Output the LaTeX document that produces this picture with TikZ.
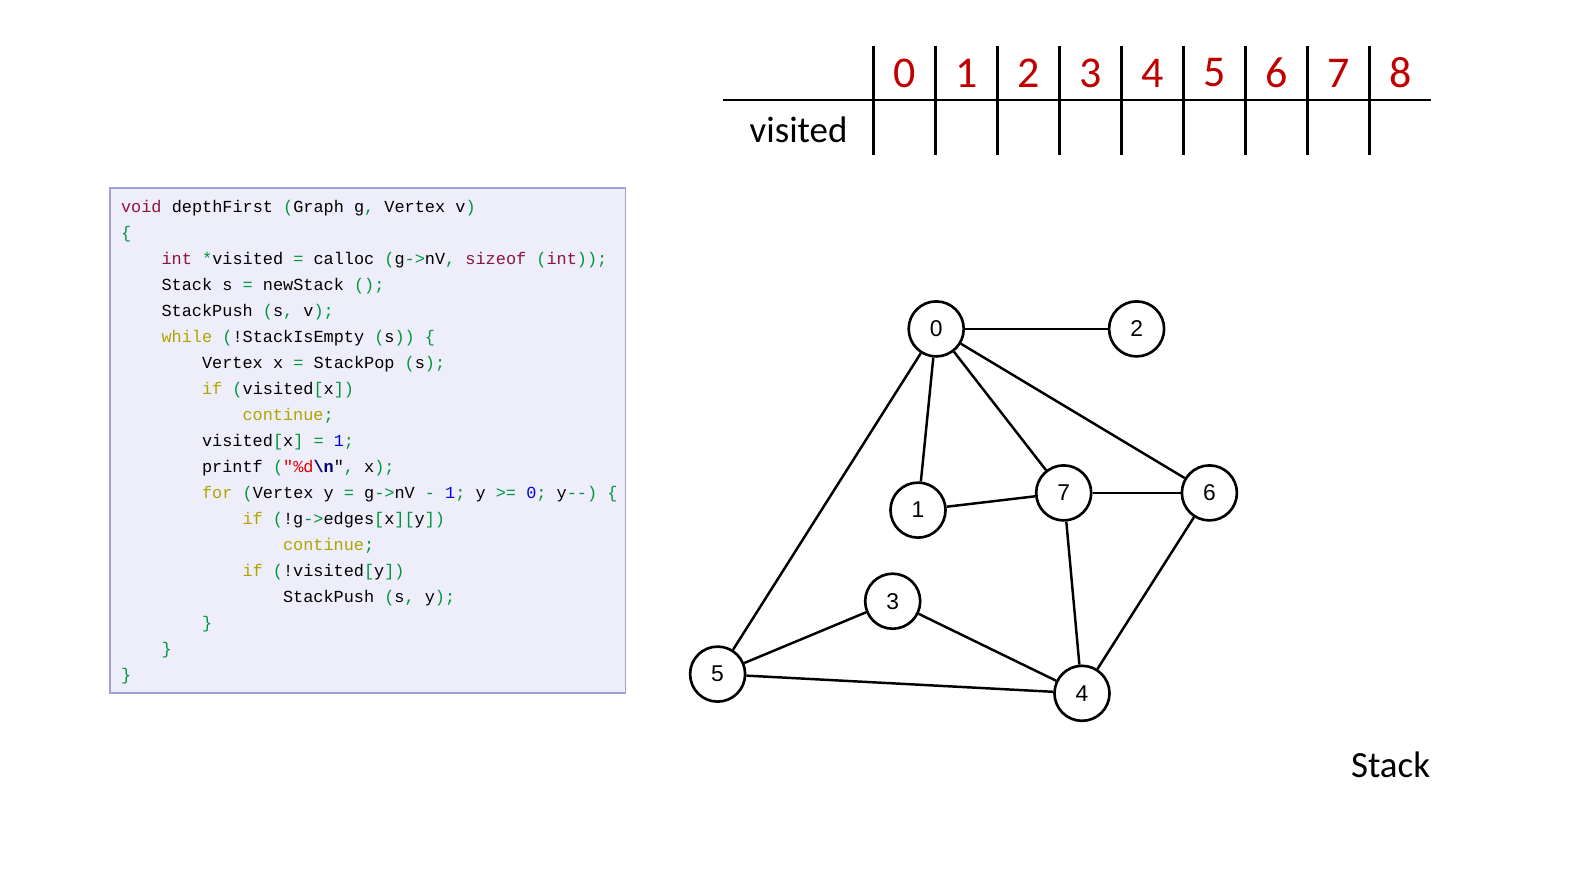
\documentclass[tikz,border=0pt]{standalone}
\usepackage{fontspec}
\setmainfont{Carlito}
\newfontfamily\codefont{Liberation Mono}
\newfontfamily\vxfont{Liberation Sans}
\definecolor{codebg}{RGB}{238,238,250}
\definecolor{codeframe}{RGB}{160,160,215}
\definecolor{kwtype}{RGB}{140,20,60}
\definecolor{kwctrl}{RGB}{175,165,0}
\definecolor{punctc}{RGB}{0,150,60}
\definecolor{numc}{RGB}{0,0,230}
\definecolor{strc}{RGB}{230,0,0}
\definecolor{escc}{RGB}{0,0,110}
\definecolor{idxred}{RGB}{192,0,0}
\newcommand\cty[1]{\textcolor{kwtype}{#1}}
\newcommand\ckw[1]{\textcolor{kwctrl}{#1}}
\newcommand\cpn[1]{\textcolor{punctc}{#1}}
\newcommand\cnm[1]{\textcolor{numc}{#1}}
\usepackage{tikz}
\usetikzlibrary{positioning}

\begin{document}
\begin{tikzpicture}[x=0.01cm,y=-0.01cm,
    codeline/.style={anchor=base west, inner sep=0pt,
      font=\codefont\fontsize{4.8}{5}\selectfont},
    vertex/.style={circle, draw, line width=0.75pt, fill=white,
      minimum size=0.55cm, inner sep=0pt, font=\vxfont\fontsize{6.5}{7}\selectfont},
    edge/.style={line width=0.7pt},
    grid/.style={line width=0.7pt},
    idx/.style={font=\fontsize{12.5}{13}\selectfont, text=idxred, inner sep=0pt},
    label/.style={font=\fontsize{10.5}{11}\selectfont, inner sep=0pt}]
  \useasboundingbox (0,0) rectangle (1587,893);

  % code panel
  \draw[codeframe, fill=codebg, line width=0.5pt] (110.3,188.3) rectangle (625.5,693.3);
  \node[codeline] (c1) at (120.4,212) {\cty{void} depthFirst \cpn{(}Graph g\cpn{,} Vertex v\cpn{)}};
  \node[codeline] (c2) at (120.4,238) {\cpn{\{}};
  \node[codeline] (c3) at (160.9,264.1) {\cty{int} \cpn{*}visited \cpn{=} calloc \cpn{(}g\cpn{->}nV\cpn{,} \cty{sizeof} \cpn{(}\cty{int}\cpn{));}};
  \node[codeline] (c4) at (160.9,290.1) {Stack s \cpn{=} newStack \cpn{();}};
  \node[codeline] (c5) at (160.9,316.1) {StackPush \cpn{(}s\cpn{,} v\cpn{);}};
  \node[codeline] (c6) at (160.9,342.2) {\ckw{while} \cpn{(}!StackIsEmpty \cpn{(}s\cpn{)) \{}};
  \node[codeline] (c7) at (201.4,368.2) {Vertex x \cpn{=} StackPop \cpn{(}s\cpn{);}};
  \node[codeline] (c8) at (201.4,394.2) {\ckw{if} \cpn{(}visited\cpn{[}x\cpn{])}};
  \node[codeline] (c9) at (241.8,420.2) {\ckw{continue}\cpn{;}};
  \node[codeline] (c10) at (201.4,446.3) {visited\cpn{[}x\cpn{]} \cpn{=} \cnm{1}\cpn{;}};
  \node[codeline] (c11) at (201.4,472.3) {printf \cpn{(}\textcolor{strc}{"\%d}\textcolor{escc}{\bfseries\textbackslash n}"\cpn{,} x\cpn{);}};
  \node[codeline] (c12) at (201.4,498.3) {\ckw{for} \cpn{(}Vertex y \cpn{=} g\cpn{->}nV \cpn{-} \cnm{1}\cpn{;} y \cpn{>=} \cnm{0}\cpn{;} y\cpn{-{}-)} \cpn{\{}};
  \node[codeline] (c13) at (241.8,524.4) {\ckw{if} \cpn{(}!g\cpn{->}edges\cpn{[}x\cpn{][}y\cpn{])}};
  \node[codeline] (c14) at (282.3,550.4) {\ckw{continue}\cpn{;}};
  \node[codeline] (c15) at (241.8,576.4) {\ckw{if} \cpn{(}!visited\cpn{[}y\cpn{])}};
  \node[codeline] (c16) at (282.3,602.5) {StackPush \cpn{(}s\cpn{,} y\cpn{);}};
  \node[codeline] (c17) at (201.4,628.5) {\cpn{\}}};
  \node[codeline] (c18) at (160.9,654.5) {\cpn{\}}};
  \node[codeline] (c19) at (120.4,680.5) {\cpn{\}}};

  % visited table
  \draw[grid] (722.6,100.2) -- (1431,100.2);
  \foreach \i in {0,...,8} {
    \draw[grid] (873.4+62*\i,45.5) -- (873.4+62*\i,154.9);
    \node[idx] (d\i) at (904.4+62*\i,73) {\i};
  }
  \node[label] (vis) at (798.6,129.5) {visited};

  % graph
  \node[vertex] (v0) at (936.2,328.9) {0};
  \node[vertex] (v2) at (1136.6,328.9) {2};
  \node[vertex] (v1) at (918,510.1) {1};
  \node[vertex] (v7) at (1063.7,492.9) {7};
  \node[vertex] (v6) at (1209.4,492.9) {6};
  \node[vertex] (v3) at (892.7,601.2) {3};
  \node[vertex] (v5) at (717.6,674.1) {5};
  \node[vertex] (v4) at (1082,693.3) {4};
  \foreach \a/\b in {v0/v2,v0/v1,v0/v7,v0/v6,v0/v5,v1/v7,v7/v6,v7/v4,v6/v4,v3/v5,v3/v4,v5/v4}
    \draw[edge] (\a) -- (\b);

  \node[label] (stk) at (1390.6,765.1) {Stack};
\end{tikzpicture}
\end{document}
